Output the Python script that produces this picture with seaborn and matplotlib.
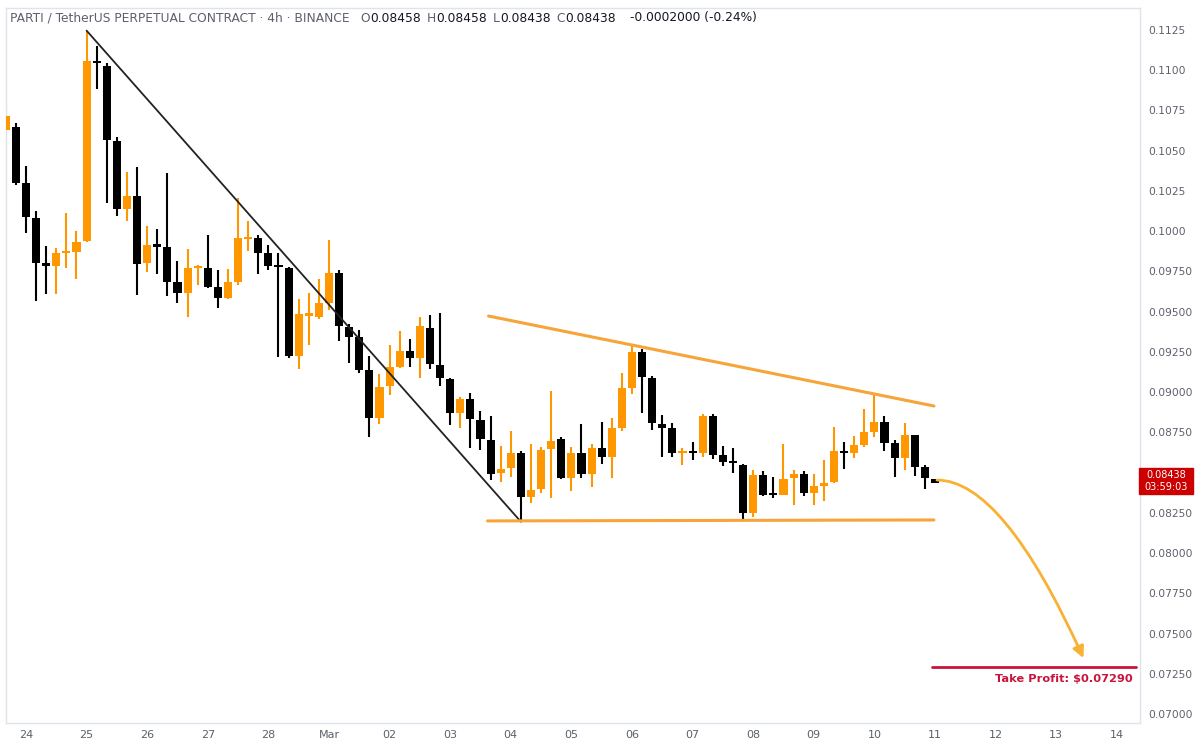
import numpy as np
import pandas as pd
import matplotlib
matplotlib.use("Agg")
import matplotlib.pyplot as plt
from matplotlib.patches import FancyArrowPatch, Rectangle
from matplotlib.path import Path
import seaborn as sns

# ── 4h candles, index 0 = 24 Feb 00:00 ────────────────────────────────────────
bar_idx = list(range(-2, 91))
opens = [
    0.10629, 0.10649, 0.10301, 0.10084, 0.09801, 0.09784, 0.09863, 0.09869, 0.09939, 0.11057,
    0.11028, 0.10560, 0.10136, 0.10219, 0.09801, 0.09919, 0.09904, 0.09686, 0.09618, 0.09770,
    0.09773, 0.09655, 0.09583, 0.09686, 0.09953, 0.09960, 0.09863, 0.09784, 0.09770, 0.09225,
    0.09473, 0.09465, 0.09556, 0.09742, 0.09407, 0.09345, 0.09138, 0.08838, 0.09038, 0.09158,
    0.09258, 0.09214, 0.09400, 0.09169, 0.09080, 0.08872, 0.08956, 0.08827, 0.08703, 0.08496,
    0.08527, 0.08620, 0.08351, 0.08397, 0.08645, 0.08707, 0.08469, 0.08624, 0.08492, 0.08651,
    0.08599, 0.08775, 0.09024, 0.09251, 0.09086, 0.08802, 0.08775, 0.08620, 0.08630, 0.08624,
    0.08854, 0.08610, 0.08572, 0.08548, 0.08247, 0.08485, 0.08367, 0.08361, 0.08469, 0.08490,
    0.08372, 0.08417, 0.08444, 0.08634, 0.08620, 0.08672, 0.08754, 0.08813, 0.08682, 0.08589,
    0.08734, 0.08533, 0.08458,
]
highs = [
    0.10757, 0.10674, 0.10405, 0.10126, 0.09910, 0.09898, 0.10115, 0.10001, 0.11246, 0.11152,
    0.11043, 0.10587, 0.10370, 0.10401, 0.10032, 0.10012, 0.10360, 0.09815, 0.09888, 0.09790,
    0.09976, 0.09759, 0.09763, 0.10208, 0.10063, 0.09976, 0.09914, 0.09863, 0.09778, 0.09577,
    0.09614, 0.09703, 0.09945, 0.09759, 0.09423, 0.09386, 0.09227, 0.09113, 0.09293, 0.09382,
    0.09330, 0.09465, 0.09479, 0.09494, 0.09085, 0.08972, 0.08997, 0.08885, 0.08852, 0.08666,
    0.08759, 0.08634, 0.08676, 0.08661, 0.09009, 0.08723, 0.08661, 0.08802, 0.08676, 0.08817,
    0.08841, 0.09117, 0.09293, 0.09266, 0.09100, 0.08858, 0.08807, 0.08651, 0.08692, 0.08862,
    0.08862, 0.08664, 0.08651, 0.08552, 0.08516, 0.08512, 0.08471, 0.08678, 0.08516, 0.08512,
    0.08492, 0.08579, 0.08782, 0.08692, 0.08728, 0.08895, 0.08989, 0.08852, 0.08703, 0.08807,
    0.08734, 0.08548, 0.08458,
]
lows = [
    0.10598, 0.10287, 0.09987, 0.09566, 0.09608, 0.09608, 0.09770, 0.09701, 0.09935, 0.10883,
    0.10173, 0.10094, 0.10063, 0.09604, 0.09748, 0.09732, 0.09597, 0.09552, 0.09469, 0.09666,
    0.09647, 0.09525, 0.09577, 0.09666, 0.09877, 0.09732, 0.09759, 0.09220, 0.09210, 0.09142,
    0.09293, 0.09453, 0.09510, 0.09320, 0.09179, 0.09121, 0.08720, 0.08802, 0.08982, 0.09148,
    0.09158, 0.09086, 0.09142, 0.09038, 0.08796, 0.08775, 0.08651, 0.08641, 0.08454, 0.08444,
    0.08471, 0.08195, 0.08310, 0.08372, 0.08341, 0.08459, 0.08388, 0.08465, 0.08413, 0.08552,
    0.08465, 0.08759, 0.08989, 0.08872, 0.08765, 0.08599, 0.08599, 0.08548, 0.08579, 0.08599,
    0.08585, 0.08541, 0.08496, 0.08206, 0.08226, 0.08355, 0.08341, 0.08361, 0.08299, 0.08355,
    0.08299, 0.08326, 0.08438, 0.08521, 0.08589, 0.08661, 0.08723, 0.08636, 0.08471, 0.08516,
    0.08479, 0.08397, 0.08438,
]
closes = [
    0.10716, 0.10301, 0.10090, 0.09804, 0.09784, 0.09863, 0.09871, 0.09935, 0.11059, 0.11043,
    0.10567, 0.10136, 0.10219, 0.09794, 0.09914, 0.09904, 0.09686, 0.09618, 0.09770, 0.09778,
    0.09655, 0.09587, 0.09686, 0.09956, 0.09966, 0.09863, 0.09784, 0.09776, 0.09225, 0.09486,
    0.09492, 0.09556, 0.09742, 0.09411, 0.09345, 0.09138, 0.08838, 0.09034, 0.09154, 0.09258,
    0.09214, 0.09411, 0.09173, 0.09086, 0.08872, 0.08956, 0.08831, 0.08707, 0.08492, 0.08521,
    0.08624, 0.08351, 0.08392, 0.08641, 0.08697, 0.08465, 0.08624, 0.08490, 0.08651, 0.08599,
    0.08775, 0.09024, 0.09251, 0.09092, 0.08807, 0.08775, 0.08624, 0.08630, 0.08620, 0.08854,
    0.08610, 0.08568, 0.08558, 0.08251, 0.08485, 0.08361, 0.08361, 0.08459, 0.08490, 0.08372,
    0.08417, 0.08438, 0.08634, 0.08624, 0.08672, 0.08754, 0.08813, 0.08682, 0.08589, 0.08734,
    0.08533, 0.08465, 0.08438,
]

# drawn pattern lines (bar index, price)
trend_x = [6, 49]
trend_y = [0.11246, 0.08195]
upper_x = [45.8, 89.9]
upper_y = [0.09473, 0.08914]
lower_x = [45.7, 89.9]
lower_y = [0.08200, 0.08206]
arrow_x = [90.2, 96.7, 104.7]
arrow_y = [0.08454, 0.08454, 0.07348]
tp_x = [89.7, 109.9]
tp_price = 0.07290
last_price = 0.08438
countdown = "03:59:03"

day_ticks = list(range(0, 109, 6))
day_labels = ["24", "25", "26", "27", "28", "Mar", "02", "03", "04", "05", "06",
              "07", "08", "09", "10", "11", "12", "13", "14"]
# 0.08500 sits under the last-price tag, so it is not listed
price_ticks = [0.07, 0.0725, 0.075, 0.0775, 0.08, 0.0825, 0.0875, 0.09,
               0.0925, 0.095, 0.0975, 0.1, 0.1025, 0.105, 0.1075, 0.11, 0.1125]
price_labels = ["0.07000", "0.07250", "0.07500", "0.07750", "0.08000", "0.08250",
                "0.08750", "0.09000", "0.09250", "0.09500", "0.09750",
                "0.1000", "0.1025", "0.1050", "0.1075", "0.1100", "0.1125"]

UP, DOWN = "#ff9800", "#000000"
PAT = "#f7a43a"
ARROW = "#f8b133"
TP = "#c8143c"
GREY = "#5d606b"

sns.set_theme(style="white")
plt.rcParams["font.family"] = ["DejaVu Sans"]

df = pd.DataFrame({"i": bar_idx, "o": opens, "h": highs, "l": lows, "c": closes})
df["up"] = df["c"] >= df["o"]
df["col"] = np.where(df["up"], UP, DOWN)
df["bot"] = df[["o", "c"]].min(axis=1)
df["body"] = (df["c"] - df["o"]).abs().clip(lower=0.00012)

W, H = 1200, 747
fig = plt.figure(figsize=(W / 100, H / 100), dpi=100)
ax = fig.add_axes([6 / W, 24 / H, 1134 / W, 715 / H])

ax.vlines(df["i"], df["l"], df["h"], colors=df["col"], linewidth=1.5, zorder=2)
ax.bar(df["i"], df["body"], bottom=df["bot"], width=0.8, color=df["col"],
       linewidth=0, zorder=3)

sns.lineplot(x=trend_x, y=trend_y, color="#222222", linewidth=1.3, ax=ax, zorder=4)
sns.lineplot(x=upper_x, y=upper_y, color=PAT, linewidth=2.2, ax=ax, zorder=4)
sns.lineplot(x=lower_x, y=lower_y, color=PAT, linewidth=2.2, ax=ax, zorder=4)
sns.lineplot(x=tp_x, y=[tp_price, tp_price], color=TP, linewidth=2.0, ax=ax, zorder=4)

curve = Path(list(zip(arrow_x, arrow_y)), [Path.MOVETO, Path.CURVE3, Path.CURVE3])
ax.add_patch(FancyArrowPatch(path=curve, arrowstyle="-|>", mutation_scale=17,
                             color=ARROW, linewidth=2.0, zorder=5))

ax.annotate(f"Take Profit: ${tp_price:.5f}", xy=(tp_x[1], tp_price),
            xytext=(-2, -5), textcoords="offset points", ha="right", va="top",
            fontsize=8.2, fontweight="bold", color=TP)

ax.set_xlim(-1.98, 110.3)
ax.set_ylim(0.069446, 0.113867)
ax.set_xticks(day_ticks)
ax.set_xticklabels(day_labels)
ax.set_yticks(price_ticks)
ax.set_yticklabels(price_labels)
ax.yaxis.tick_right()
ax.tick_params(axis="y", length=0, pad=6, labelsize=7.7, labelcolor=GREY)
ax.tick_params(axis="x", length=0, pad=5, labelsize=8, labelcolor=GREY)
ax.set_xlabel("")
ax.set_ylabel("")
ax.grid(False)
for sp in ax.spines.values():
    sp.set_color("#e0e3eb")
    sp.set_linewidth(1.0)

# last price tag on the price scale
fig.patches.append(Rectangle((1139 / W, 1 - 494 / H), 54 / W, 26 / H,
                             transform=fig.transFigure, color="#cc0000", zorder=10))
fig.text(1166 / W, 1 - 475 / H, f"{last_price:.5f}", ha="center", va="center",
         fontsize=7.0, color="white", zorder=11)
fig.text(1166 / W, 1 - 487 / H, countdown, ha="center", va="center",
         fontsize=7.0, color="white", zorder=11)

# header line, pieces placed one after another
header = [
    ("PARTI / TetherUS PERPETUAL CONTRACT · 4h · BINANCE", GREY, 11),
    ("O", GREY, 0), ("0.08458", "#131722", 6),
    ("H", GREY, 0), ("0.08458", "#131722", 6),
    ("L", GREY, 0), ("0.08438", "#131722", 6),
    ("C", GREY, 0), ("0.08438", "#131722", 14),
    ("-0.0002000 (-0.24%)", "#131722", 0),
]
fig.canvas.draw()
renderer = fig.canvas.get_renderer()
xp = 10
for s, col, gap in header:
    t = fig.text(xp / W, 1 - 18 / H, s, color=col, fontsize=8.8, ha="left", va="center")
    xp += t.get_window_extent(renderer=renderer).width + gap

fig.savefig("out.png", dpi=100)
